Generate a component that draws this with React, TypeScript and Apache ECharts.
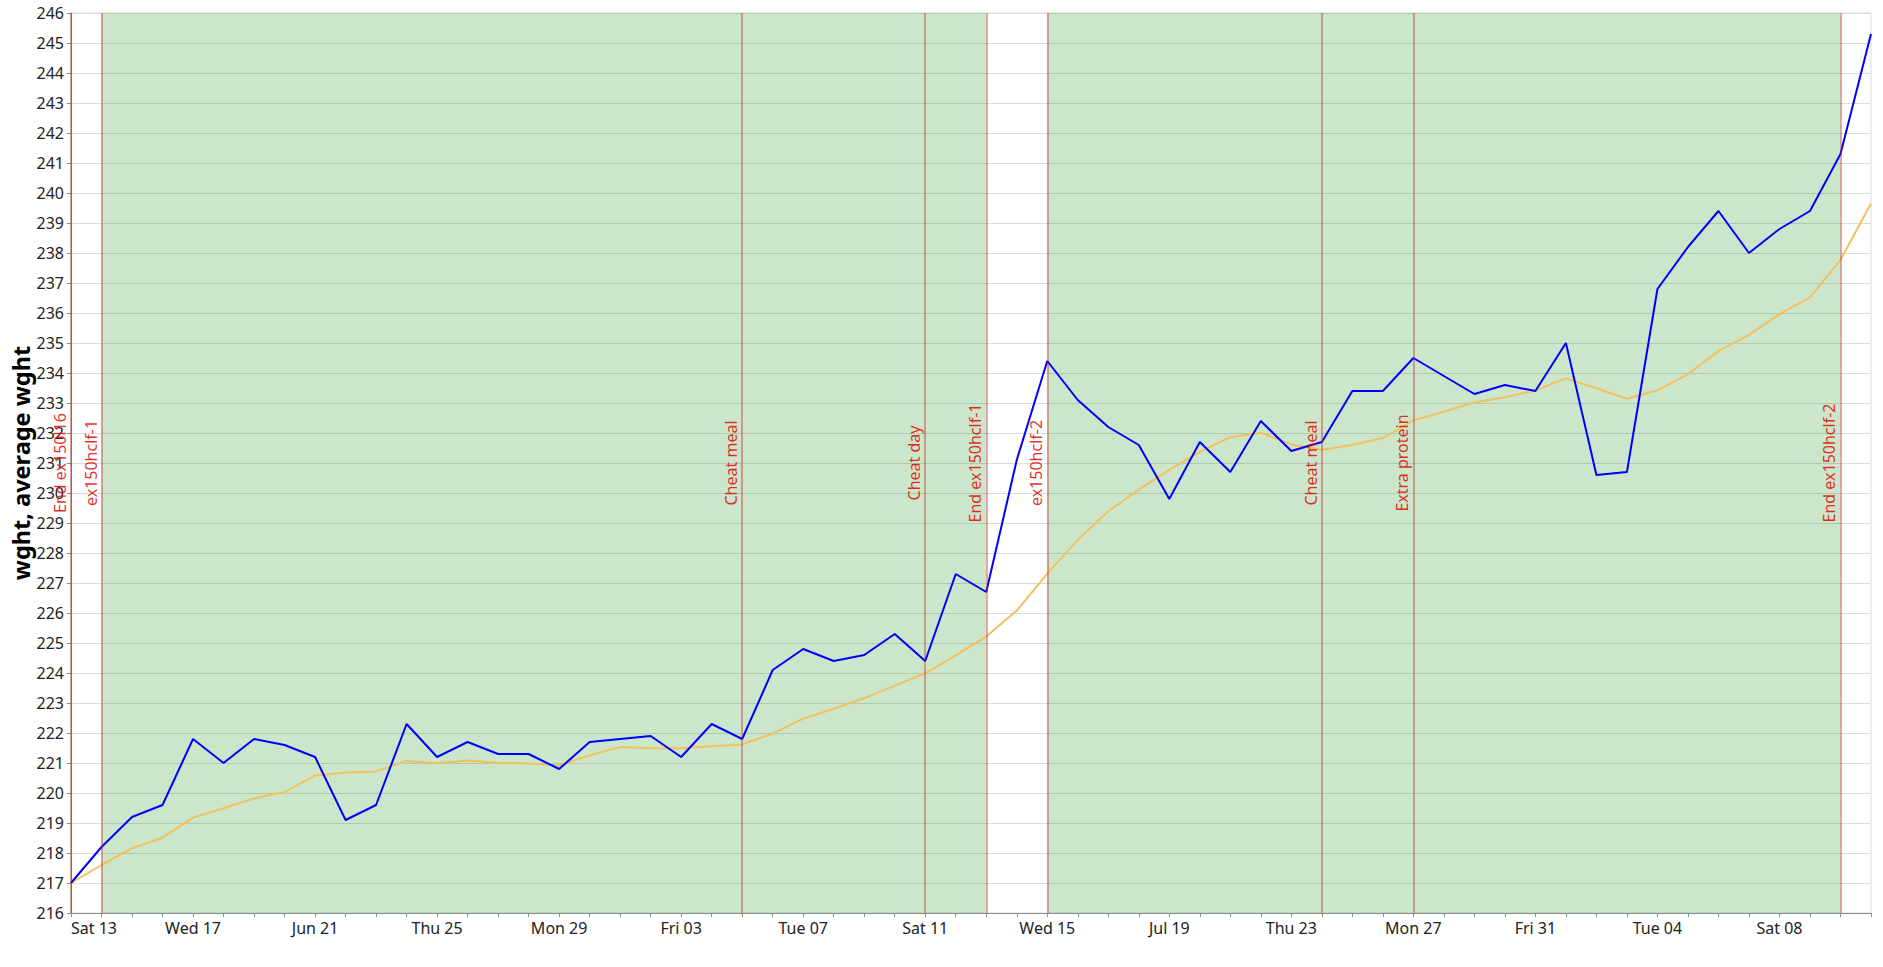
import React, { useEffect, useRef } from "react";
import * as echarts from "echarts";

const dates = [
  "2020-06-13", "2020-06-14", "2020-06-15", "2020-06-16", "2020-06-17", "2020-06-18", "2020-06-19", "2020-06-20",
  "2020-06-21", "2020-06-22", "2020-06-23", "2020-06-24", "2020-06-25", "2020-06-26", "2020-06-27", "2020-06-28",
  "2020-06-29", "2020-06-30", "2020-07-01", "2020-07-02", "2020-07-03", "2020-07-04", "2020-07-05", "2020-07-06",
  "2020-07-07", "2020-07-08", "2020-07-09", "2020-07-10", "2020-07-11", "2020-07-12", "2020-07-13", "2020-07-14",
  "2020-07-15", "2020-07-16", "2020-07-17", "2020-07-18", "2020-07-19", "2020-07-20", "2020-07-21", "2020-07-22",
  "2020-07-23", "2020-07-24", "2020-07-25", "2020-07-26", "2020-07-27", "2020-07-28", "2020-07-29", "2020-07-30",
  "2020-07-31", "2020-08-01", "2020-08-02", "2020-08-03", "2020-08-04", "2020-08-05", "2020-08-06", "2020-08-07",
  "2020-08-08", "2020-08-09", "2020-08-10", "2020-08-11",
];

// labels shown on every 4th day, starting with the first
const tickLabels = [
  "Sat 13", "Wed 17", "Jun 21", "Thu 25", "Mon 29", "Fri 03", "Tue 07", "Sat 11",
  "Wed 15", "Jul 19", "Thu 23", "Mon 27", "Fri 31", "Tue 04", "Sat 08",
];

const weight = [
  217.0, 218.2, 219.2, 219.6, 221.8, 221.0, 221.8, 221.6, 221.2, 219.1,
  219.6, 222.3, 221.2, 221.7, 221.3, 221.3, 220.8, 221.7, 221.8, 221.9,
  221.2, 222.3, 221.8, 224.1, 224.8, 224.4, 224.6, 225.3, 224.4, 227.3,
  226.7, 231.1, 234.4, 233.1, 232.2, 231.6, 229.8, 231.7, 230.7, 232.4,
  231.4, 231.7, 233.4, 233.4, 234.5, 233.9, 233.3, 233.6, 233.4, 235.0,
  230.6, 230.7, 236.8, 238.2, 239.4, 238.0, 238.8, 239.4, 241.3, 245.3,
];

const avgWeight = [
  217.0, 217.6, 218.16, 218.51, 219.18, 219.49, 219.82, 220.03, 220.58, 220.68,
  220.72, 221.07, 220.99, 221.08, 221.01, 220.98, 220.92, 221.26, 221.53, 221.49,
  221.49, 221.56, 221.62, 221.98, 222.48, 222.81, 223.16, 223.58, 223.99, 224.59,
  225.22, 226.08, 227.31, 228.44, 229.39, 230.11, 230.77, 231.37, 231.86, 232.01,
  231.62, 231.44, 231.6, 231.83, 232.42, 232.71, 233.02, 233.19, 233.42, 233.82,
  233.49, 233.14, 233.42, 233.96, 234.73, 235.27, 235.96, 236.52, 237.77, 239.65,
];

const eventDates = [
  "2020-06-13", "2020-06-14", "2020-07-05", "2020-07-11", "2020-07-13",
  "2020-07-15", "2020-07-24", "2020-07-27", "2020-08-10",
];
const eventNames = [
  "End ex150l16", "ex150hclf-1", "Cheat meal", "Cheat day", "End ex150hclf-1",
  "ex150hclf-2", "Cheat meal", "Extra protein", "End ex150hclf-2",
];

const bandStarts = ["2020-06-14", "2020-07-15"];
const bandEnds = ["2020-07-13", "2020-08-10"];

const FONT = "Noto Sans";

export default function App() {
  const ref = useRef<HTMLDivElement>(null);

  useEffect(() => {
    if (!ref.current) return;
    const chart = echarts.init(ref.current, null, { renderer: "svg" });
    const option: any = {
      animation: false,
      backgroundColor: "#ffffff",
      textStyle: { fontFamily: FONT },
      grid: {
        left: 71,
        right: 12,
        top: 13,
        bottom: 54,
        containLabel: false,
        outerBoundsMode: "none",
        show: true,
        borderColor: "#dddddd",
        borderWidth: 1,
      },
      xAxis: {
        type: "category",
        data: dates,
        boundaryGap: false,
        axisLine: { show: true, lineStyle: { color: "#8c8c8c", width: 1 } },
        axisTick: { show: true, interval: 0, length: 4, lineStyle: { color: "#8c8c8c" } },
        axisLabel: {
          interval: 3,
          margin: 7,
          fontSize: 16,
          fontFamily: FONT,
          color: "#222222",
          alignMinLabel: "left",
          formatter: (_v: string, i: number) => tickLabels[Math.round(i / 4)] ?? "",
        },
        splitLine: { show: false },
      },
      yAxis: {
        type: "value",
        min: 216,
        max: 246,
        interval: 1,
        name: "wght, average wght",
        nameLocation: "middle",
        nameGap: 38,
        nameMoveOverlap: false,
        nameTextStyle: { fontSize: 23.5, fontWeight: "bold", color: "#000000", fontFamily: FONT },
        axisLine: { show: true, lineStyle: { color: "#8c8c8c", width: 1 } },
        axisTick: { show: true, length: 4, lineStyle: { color: "#8c8c8c" } },
        axisLabel: { margin: 7, fontSize: 16, fontFamily: FONT, color: "#222222" },
        splitLine: { show: true, lineStyle: { color: "#dcdcdc", width: 1 } },
      },
      series: [
        {
          name: "bands",
          type: "line",
          data: [],
          z: 1,
          silent: true,
          markArea: {
            silent: true,
            itemStyle: { color: "rgba(0,128,0,0.2)" },
            data: bandStarts.map((s, i) => [{ xAxis: s }, { xAxis: bandEnds[i] }]),
          },
        },
        {
          name: "avg wght",
          type: "line",
          data: avgWeight,
          z: 3,
          showSymbol: false,
          symbol: "none",
          lineStyle: { color: "#f2c15e", width: 2 },
        },
        {
          name: "wght",
          type: "line",
          data: weight,
          z: 4,
          showSymbol: false,
          symbol: "none",
          lineStyle: { color: "#0000ff", width: 2 },
          markLine: {
            silent: true,
            symbol: "none",
            lineStyle: { color: "rgba(185,40,15,0.38)", width: 2, type: "solid" },
            label: {
              show: true,
              position: "middle",
              distance: 3,
              fontSize: 16,
              fontFamily: FONT,
              color: "rgba(225,10,0,0.85)",
              formatter: (p: any) => p.name,
            },
            data: eventDates.map((d, i) => ({ xAxis: d, name: eventNames[i] })),
          },
        },
      ],
    };
    chart.setOption(option);
    return () => chart.dispose();
  }, []);

  return (
    <div
      ref={ref}
      style={{ position: "fixed", left: 0, top: 0, width: 1883, height: 967, background: "#fff" }}
    />
  );
}
